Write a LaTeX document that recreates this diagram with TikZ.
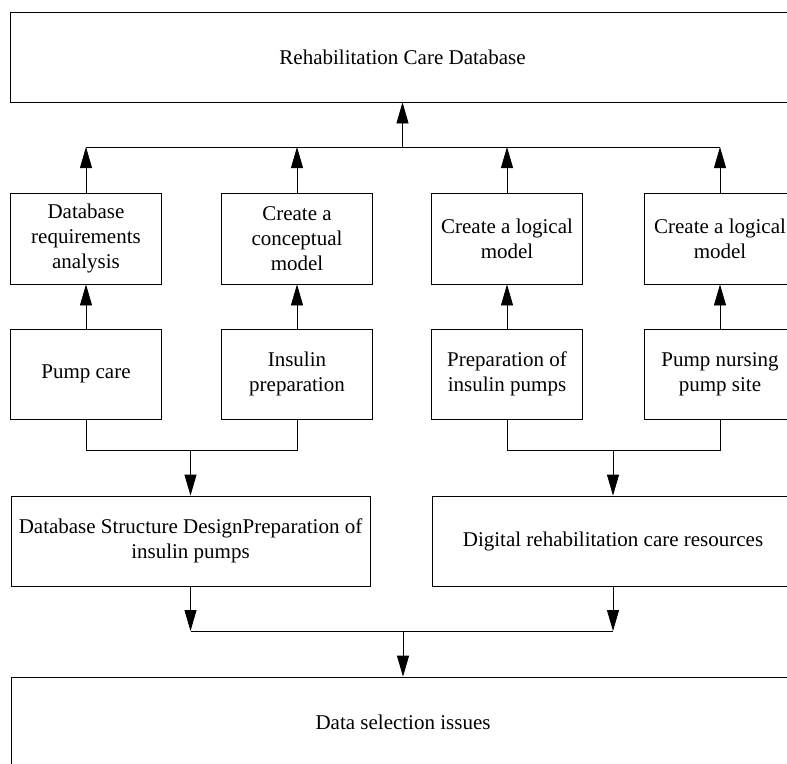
\documentclass[tikz,border=0pt]{standalone}
\usepackage{fontspec}
\setmainfont{Liberation Serif}
\usetikzlibrary{positioning,arrows.meta}

\begin{document}
\begin{tikzpicture}[x=1pt, y=-1pt,
    box/.style={draw, line width=0.8pt, rectangle, inner sep=0pt, align=center,
        font=\fontsize{21}{25}\selectfont},
    smallbox/.style={box, minimum width=151pt, minimum height=91pt},
    widebox/.style={box, minimum height=90pt},
    link/.style={line width=0.8pt},
    arrow/.style={link, -{Triangle[length=21pt, width=12pt]}}]
    % Page
    \useasboundingbox (0,0) rectangle (787,763);
    \clip (0,0) rectangle (787,763);

    % Top and bottom
    \node[widebox, minimum width=785pt] (care) at (402.5, 57) {Rehabilitation Care Database};
    \node[widebox, minimum width=784pt] (issues) at (403, 722) {Data selection issues};

    % Upper row
    \node[smallbox] (req) at (86, 238.5) {Database\\requirements\\analysis};
    \node[smallbox] (concept) at (297, 238.5) {Create a\\conceptual\\model};
    \node[smallbox] (logicA) at (507, 238.5) {Create a logical\\model};
    \node[smallbox] (logicB) at (720, 238.5) {Create a logical\\model};

    % Lower row
    \node[smallbox, minimum height=90pt] (pump) at (86, 374) {Pump care};
    \node[smallbox, minimum height=90pt] (insulin) at (297, 374) {Insulin\\preparation};
    \node[smallbox, minimum height=90pt] (prep) at (507, 374) {Preparation of\\insulin pumps};
    \node[smallbox, minimum height=90pt] (site) at (720, 374) {Pump nursing\\pump site};

    % Middle row
    \node[widebox, minimum width=359pt] (design) at (190.5, 541) {Database Structure DesignPreparation of\\insulin pumps};
    \node[widebox, minimum width=362pt] (digital) at (613, 541) {Digital rehabilitation care resources};

    % Junction levels
    \coordinate (bus) at (0, 147);
    \coordinate (joinL) at (0, 450);
    \coordinate (joinB) at (0, 631);

    % Upper bus
    \draw[link] (req.north |- bus) -- (logicB.north |- bus);
    \draw[arrow] (care.south |- bus) -- (care.south);
    \foreach \n in {req, concept, logicA, logicB}
        \draw[arrow] (\n.north) -- (\n.north |- bus);

    % Lower row up to upper row
    \draw[arrow] (pump.north) -- (req.south);
    \draw[arrow] (insulin.north) -- (concept.south);
    \draw[arrow] (prep.north) -- (logicA.south);
    \draw[arrow] (site.north) -- (logicB.south);

    % Pairs down to middle row
    \draw[link] (pump.south) -- (pump.south |- joinL) -- (insulin.south |- joinL) -- (insulin.south);
    \draw[arrow] (design.north |- joinL) -- (design.north);
    \draw[link] (prep.south) -- (prep.south |- joinL) -- (site.south |- joinL) -- (site.south);
    \draw[arrow] (digital.north |- joinL) -- (digital.north);

    % Middle row down to bottom
    \draw[arrow] (design.south) -- (design.south |- joinB);
    \draw[arrow] (digital.south) -- (digital.south |- joinB);
    \draw[link] (design.south |- joinB) -- (digital.south |- joinB);
    \draw[arrow] (issues.north |- joinB) -- (issues.north);
\end{tikzpicture}
\end{document}
